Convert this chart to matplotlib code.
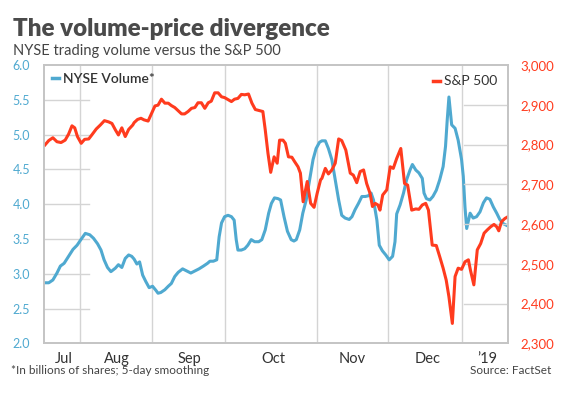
import matplotlib
matplotlib.use("Agg")
import matplotlib.pyplot as plt
from matplotlib.lines import Line2D

plt.rcParams['font.family'] = ['Lato', 'DejaVu Sans']

BLUE = "#4fa9d0"
RED = "#ff3b1e"
GRID = "#d4d4d4"
TXT = "#444444"

# x = trading day since start of chart (late June 2018)
vol_day = [0.2, 1.3, 2.5, 3.7, 4.7, 5.8, 7.1, 8.4, 9.6, 10.7, 12.0, 13.3, 14.4, 15.6,
           16.6, 17.5, 18.5, 19.5, 20.8, 21.7, 22.7, 23.7, 24.7, 25.6,
           26.3, 27.1, 27.9, 28.8, 29.7, 30.7, 31.7, 32.7, 33.3, 34.1, 35.3, 36.3,
           37.2, 38.2, 39.2, 40.5, 41.7, 42.9, 44.1, 45.3, 46.6, 47.8, 48.5, 49.5,
           50.5, 51.2, 51.9, 52.8, 53.8,
           54.8, 55.6, 56.2, 56.7, 57.7, 58.7, 59.6, 60.6, 61.6, 62.8, 63.7, 64.7,
           65.7, 66.5, 67.4, 68.4, 69.2, 70.2, 71.2, 72.3, 73.1, 73.8, 74.8, 75.7,
           76.7, 77.7, 78.7, 79.6, 80.6,
           81.3, 82.3, 83.2, 84.2, 85.2, 86.2, 87.1, 88.1, 89.3, 90.1, 91.0, 92.0,
           93.0, 94.0, 94.9, 95.7, 96.4, 97.4, 98.1, 99.0, 100.0, 101.0, 102.0,
           102.7, 103.2, 104.2, 105.2, 106.1, 107.1, 107.8, 108.8,
           109.7, 110.7, 111.2, 111.9, 112.9, 113.8, 114.8, 115.8, 116.8, 117.5,
           118.0, 118.5, 119.3, 120.3, 121.2, 122.2, 122.7, 123.2, 123.7, 124.7,
           125.6, 126.6, 127.6, 128.6, 129.5, 130.5, 131.5, 132.5, 133.4, 134.4, 135.6]
volume = [2.87, 2.87, 2.91, 3.01, 3.11, 3.15, 3.25, 3.35, 3.41, 3.49, 3.58, 3.56, 3.51, 3.43,
          3.34, 3.20, 3.09, 3.03, 3.08, 3.13, 3.09, 3.22, 3.27, 3.25,
          3.21, 3.14, 3.17, 2.98, 2.89, 2.80, 2.82, 2.76, 2.72, 2.73, 2.77, 2.82,
          2.86, 2.96, 3.02, 3.07, 3.04, 3.01, 3.04, 3.07, 3.11, 3.15, 3.18, 3.18,
          3.20, 3.53, 3.73, 3.82, 3.84,
          3.82, 3.77, 3.49, 3.34, 3.34, 3.36, 3.41, 3.49, 3.46, 3.46, 3.49, 3.63,
          3.87, 4.01, 4.09, 4.08, 4.06, 3.82, 3.61, 3.49, 3.47, 3.49, 3.63, 3.87,
          4.06, 4.35, 4.64, 4.80, 4.89,
          4.91, 4.91, 4.80, 4.64, 4.35, 4.06, 3.84, 3.80, 3.78, 3.82, 3.92, 4.01,
          4.11, 4.11, 4.12, 4.16, 4.06, 3.77, 3.41, 3.33, 3.27, 3.20, 3.25,
          3.46, 3.86, 3.99, 4.16, 4.35, 4.49, 4.57, 4.49,
          4.45, 4.37, 4.16, 4.08, 4.06, 4.11, 4.20, 4.35, 4.54, 4.83,
          5.21, 5.54, 5.14, 5.09, 4.92, 4.64, 4.40, 3.96, 3.65, 3.87,
          3.80, 3.82, 3.89, 4.02, 4.09, 4.07, 3.96, 3.87, 3.78, 3.72, 3.69]

spx_day = [0.2, 1.3, 2.5, 3.7, 4.9, 6.1, 7.1, 8.1, 8.9, 9.7, 10.8, 11.8, 13.0, 13.9,
           15.2, 16.4, 17.6, 18.8, 19.8, 20.8, 21.7, 22.7, 23.7, 24.7, 25.9,
           26.3, 27.3, 28.3, 29.2, 30.4, 31.4, 32.4, 33.3, 34.3, 35.3, 36.3, 37.2,
           38.2, 39.2, 40.2, 41.1, 42.1, 43.1, 44.1, 45.0, 46.0, 47.0, 48.0, 48.9,
           49.9, 50.9, 51.9, 52.8, 53.8,
           54.8, 55.7, 56.7, 57.7, 58.7, 59.8, 60.8, 61.8, 63.1, 64.0, 64.7, 65.5,
           66.3, 67.3, 68.2, 68.9, 69.9, 70.6, 71.5, 72.5, 73.3, 74.3, 75.0, 75.8,
           77.0, 78.0, 79.0, 79.9, 80.9,
           81.3, 82.3, 83.2, 84.2, 85.2, 86.2, 87.1, 88.3, 89.6, 90.5, 91.5, 92.5,
           93.5, 94.4, 95.4, 96.1, 96.9, 97.7, 98.3, 99.1, 100.3, 101.3, 102.2,
           103.2, 104.4, 105.5, 106.4, 107.6, 108.8,
           109.7, 110.7, 111.7, 112.5, 113.6, 114.8, 115.8, 116.8, 117.7, 118.5,
           119.5, 120.3, 121.2, 122.2, 123.2, 124.2, 124.8, 125.8, 126.8, 127.8,
           128.8, 129.7, 130.7, 131.7, 132.5, 133.1, 133.9, 134.9, 135.7]
spx = [2799, 2810, 2817, 2807, 2805, 2811, 2826, 2847, 2842, 2820, 2803, 2813, 2814, 2824,
       2839, 2849, 2860, 2857, 2853, 2837, 2824, 2842, 2820, 2838, 2849,
       2855, 2863, 2866, 2862, 2859, 2878, 2897, 2899, 2914, 2904, 2904, 2898,
       2893, 2885, 2877, 2877, 2883, 2891, 2893, 2905, 2905, 2891, 2905, 2909,
       2930, 2930, 2920, 2918, 2913,
       2908, 2914, 2916, 2926, 2925, 2927, 2904, 2888, 2885, 2883, 2837, 2778,
       2730, 2769, 2753, 2811, 2811, 2803, 2769, 2768, 2757, 2744, 2728, 2656,
       2707, 2652, 2642, 2677, 2711,
       2715, 2740, 2726, 2736, 2753, 2814, 2810, 2786, 2728, 2723, 2704, 2732,
       2736, 2702, 2677, 2644, 2652, 2648, 2635, 2673, 2686, 2744, 2740,
       2765, 2790, 2702, 2698, 2635, 2638,
       2637, 2648, 2652, 2635, 2547, 2546, 2518, 2489, 2459, 2417,
       2350, 2468, 2489, 2486, 2505, 2510, 2484, 2447, 2535, 2551,
       2577, 2585, 2593, 2599, 2593, 2583, 2606, 2614, 2618]

month_starts = [10.5, 31.6, 52.9, 79.8, 100.6, 122.2]
month_mid = [5.6, 21.3, 42.4, 67.0, 90.1, 112.3, 129.6]
month_labels = ["Jul", "Aug", "Sep", "Oct", "Nov", "Dec", "\u201919"]

vol_ticks = [2.0, 2.5, 3.0, 3.5, 4.0, 4.5, 5.0, 5.5, 6.0]
spx_ticks = [2300, 2400, 2500, 2600, 2700, 2800, 2900, 3000]

fig = plt.figure(figsize=(5.69, 3.98), dpi=100)
ax = fig.add_axes([0.0773, 0.1374, 0.8155, 0.6993])
ax2 = ax.twinx()

ax.set_xlim(-0.1, 135.8)
ax.set_ylim(2.0, 6.0)
ax2.set_ylim(2300, 3000)

for m in month_starts:
    ax.axvline(m, color=GRID, lw=1.0, zorder=0)
for v in vol_ticks[1:-1]:
    ax.axhline(v, xmin=0, xmax=0.097, color=GRID, lw=1.0, zorder=0)
for v in spx_ticks[1:-1]:
    ax2.axhline(v, xmin=0.905, xmax=1, color=GRID, lw=1.0, zorder=0)

ax.plot(vol_day, volume, color=BLUE, lw=2.2, solid_joinstyle='round')
ax2.plot(spx_day, spx, color=RED, lw=2.2, solid_joinstyle='round')

for a in (ax, ax2):
    for s in a.spines.values():
        s.set_color("#c4c4c4")
        s.set_linewidth(1.2)
    a.tick_params(length=0)

ax.set_yticks(vol_ticks)
ax.set_yticklabels([f"{v:.1f}" for v in vol_ticks], color=BLUE, fontsize=9)
ax.tick_params(axis='y', pad=10)
ax2.set_yticks(spx_ticks)
ax2.set_yticklabels([f"{v:,}" for v in spx_ticks], color=RED, fontsize=9.5)
ax2.tick_params(axis='y', pad=9)
ax.set_xticks(month_mid)
ax.set_xticklabels(month_labels, fontsize=10.5, color="#333333")
ax.tick_params(axis='x', pad=6)

leg1 = ax.legend([Line2D([], [], color=BLUE, lw=2.5)], ["NYSE Volume*"],
                 loc="upper left", bbox_to_anchor=(0.0, 1.0), frameon=False,
                 handlelength=0.5, handletextpad=0.3, borderaxespad=0.3,
                 borderpad=0.3, prop={'size': 10, 'weight': 'semibold'})
for t in leg1.get_texts():
    t.set_color("#333333")
leg2 = ax2.legend([Line2D([], [], color=RED, lw=2.5)], ["S&P 500"],
                  loc="upper right", bbox_to_anchor=(1.0, 1.0), frameon=False,
                  handlelength=0.5, handletextpad=0.3, borderaxespad=0.35,
                  prop={'size': 10})
for t in leg2.get_texts():
    t.set_color("#333333")

fig.text(0.023, 0.91, "The volume-price divergence", fontsize=17.4, weight='heavy',
         color="#4a4a4a", va='baseline')
fig.text(0.023, 0.862, "NYSE trading volume versus the S&P 500", fontsize=10.5,
         color=TXT, va='baseline')
fig.text(0.019, 0.068, "*In billions of shares; 5-day smoothing", fontsize=8.5,
         color=TXT, va='center')
fig.text(0.968, 0.068, "Source: FactSet", fontsize=8.5, color=TXT, va='center',
         ha='right')

fig.savefig("out.png", dpi=100)
